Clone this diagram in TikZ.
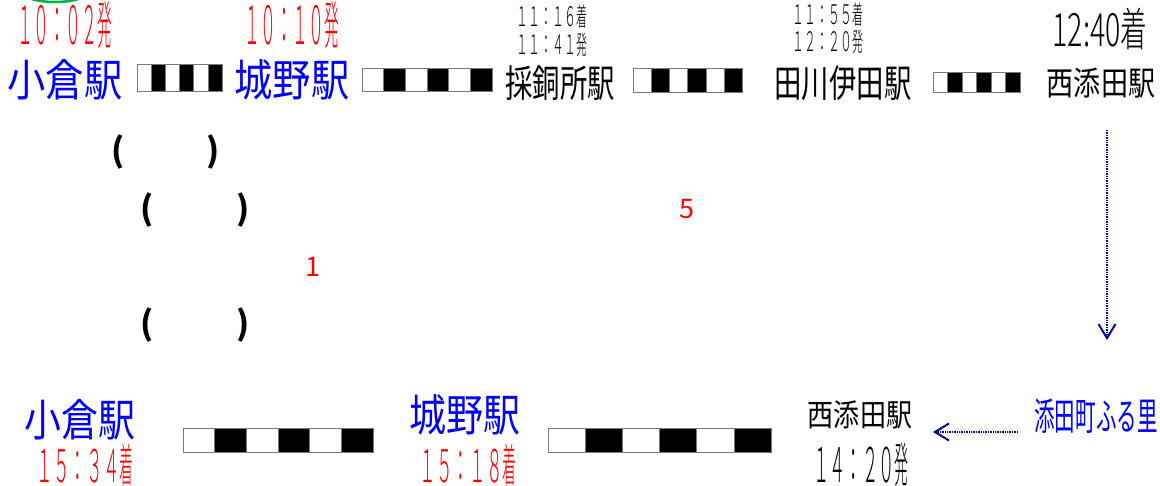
\documentclass[tikz,border=0pt]{standalone}
\usepackage{fontspec}
\usepackage{graphicx}
\usetikzlibrary{arrows.meta}
\newfontfamily\jpfont{Noto Sans CJK JP}
\newfontfamily\jpthin{Noto Sans CJK JP Light}
\definecolor{stnblue}{RGB}{0,0,255}
\definecolor{timered}{RGB}{255,0,0}
\definecolor{arrowblue}{RGB}{0,0,170}
\definecolor{railgray}{RGB}{120,120,120}
\definecolor{arcgreen}{RGB}{0,176,80}
% #1 font size, #2 horizontal squeeze, #3 text
\newcommand{\ja}[3]{\scalebox{#2}[1]{\fontsize{#1}{#1}\jpfont #3}}
\newcommand{\jt}[3]{\scalebox{#2}[1]{\fontsize{#1}{#1}\jpthin #3}}
% #1 digit size, #2 digit squeeze, #3 digits, #4 kanji size, #5 kanji squeeze, #6 kanji
\newcommand{\clock}[6]{\jt{#1}{#2}{#3}\jt{#4}{#5}{#6}}
% #1 left x, #2 top y, #3 cell width, #4 height
\newcommand{\railbar}[4]{%
  \foreach \i in {0,...,5}{
    \pgfmathsetmacro{\xa}{#1+\i*#3}
    \ifodd\i \def\cc{black}\else\def\cc{white}\fi
    \draw[railcell, fill=\cc] (\xa,#2) rectangle ++(#3,#4);
  }}
\tikzset{
  lbl/.style={inner sep=0pt, outer sep=0pt},
  stn/.style={lbl, text=stnblue},
  tim/.style={lbl, anchor=base},
  redtim/.style={tim, text=timered},
  paren/.style={lbl, font=\bfseries},
  railcell/.style={draw=railgray, line width=0.9pt},
  transfer/.style={draw=arrowblue, line width=1.4pt, densely dotted,
    -{Straight Barb[length=14pt, width=17pt, line width=2pt]}},
}
\begin{document}
\begin{tikzpicture}[x=1pt,y=1pt,yscale=-1]
\useasboundingbox (0,0) rectangle (1160,486);

%Shape: Ellipse
\draw [arcgreen, line width=2.5] (55,-6) ellipse [x radius=30, y radius=8];

%Shape: Track
\railbar{137}{64}{14.2}{27}
\railbar{362}{68}{21.7}{23}
\railbar{633}{68}{18.3}{24}
\railbar{933}{72}{14.5}{20}
\railbar{183}{428}{31.7}{24}
\railbar{548}{428}{37.2}{24}

% Text Node
\node [redtim] (dep1) at (65,45) {\clock{53}{0.3}{１０：０２}{52}{0.28}{発}};
% Text Node
\node [redtim] (dep2) at (292,45) {\clock{53}{0.3}{１０：１０}{52}{0.28}{発}};
% Text Node
\node [tim] (arr3) at (552,27) {\clock{27}{0.44}{１１：１６}{26}{0.42}{着}};
% Text Node
\node [tim] (dep3) at (552,55) {\clock{27}{0.44}{１１：４１}{26}{0.42}{発}};
% Text Node
\node [tim] (arr4) at (828,25) {\clock{27}{0.44}{１１：５５}{26}{0.42}{着}};
% Text Node
\node [tim] (dep4) at (828,52) {\clock{27}{0.44}{１２：２０}{26}{0.42}{発}};
% Text Node
\node [tim] (arr5) at (1100,47) {\clock{46}{0.62}{12:40}{46}{0.58}{着}};

% Text Node
\node [stn] (kokura) at (65,80) {\ja{44}{0.87}{小倉駅}};
% Text Node
\node [stn] (jono) at (292,80) {\ja{44}{0.87}{城野駅}};
% Text Node
\node [lbl] (saido) at (560,83) {\ja{38}{0.72}{採銅所駅}};
% Text Node
\node [lbl] (tagawa) at (843,83) {\ja{38}{0.72}{田川伊田駅}};
% Text Node
\node [lbl] (nishi) at (1101,83) {\ja{33}{0.82}{西添田駅}};

% Text Node
\node [paren] (pa) at (118,152) {\ja{33}{1}{(}};
\node [paren] (pb) at (213,152) {\ja{33}{1}{)}};
\node [paren] (pc) at (147,210) {\ja{33}{1}{(}};
\node [paren] (pd) at (243,210) {\ja{33}{1}{)}};
\node [paren] (pe) at (147,325) {\ja{33}{1}{(}};
\node [paren] (pf) at (243,325) {\ja{33}{1}{)}};
% Text Node
\node [lbl, text=timered] (one) at (313,267) {\ja{27}{1}{1}};
% Text Node
\node [lbl, text=timered] (five) at (687,209) {\ja{27}{1}{5}};

% Text Node
\node [stn] (kokurab) at (80,420) {\ja{44}{0.84}{小倉駅}};
% Text Node
\node [redtim] (arrk) at (85,482) {\clock{45}{0.37}{１５：３４}{46}{0.3}{着}};
% Text Node
\node [stn] (jonob) at (465,415) {\ja{44}{0.84}{城野駅}};
% Text Node
\node [redtim] (arrj) at (468,482) {\clock{45}{0.37}{１５：１８}{46}{0.3}{着}};
% Text Node
\node [lbl] (nishib) at (860,415) {\ja{31}{0.84}{西添田駅}};
% Text Node
\node [tim] (depn) at (861,482) {\clock{48}{0.34}{１４：２０}{48}{0.29}{発}};
% Text Node
\node [stn] (furusato) at (1096,416) {\ja{38}{0.54}{添田町ふる里}};

%Straight Lines
\coordinate (vtop) at (1107,130);
\coordinate (vbot) at (1107,340);
\draw [transfer] (vtop) -- (vbot);
%Straight Lines
\coordinate (hfrom) at (1018,432);
\coordinate (hto) at (933,432);
\draw [transfer] (hfrom) -- (hto);

\end{tikzpicture}
\end{document}
